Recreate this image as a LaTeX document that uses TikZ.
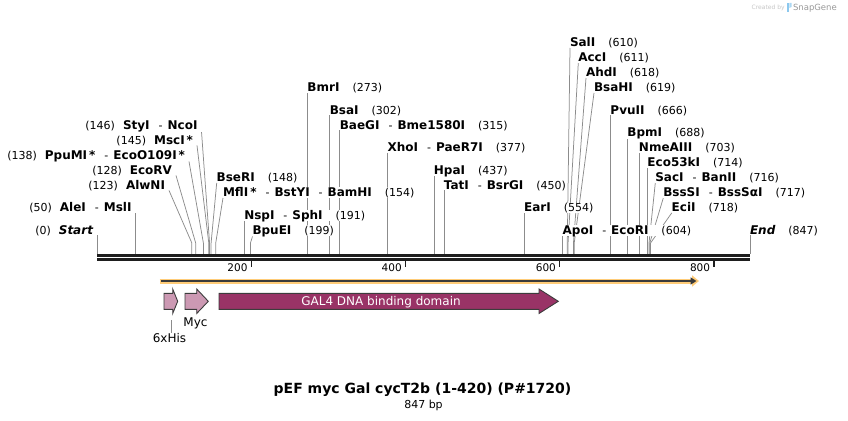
\documentclass[tikz,border=0pt]{standalone}
\usepackage{fontspec}
\setmainfont{DejaVu Sans}
\usepackage{xcolor}
\usetikzlibrary{arrows.meta,backgrounds}

\definecolor{sitegray}{HTML}{8C8C8C}
\definecolor{axisblack}{HTML}{1E1E1E}
\definecolor{orfyellow}{HTML}{FFCC78}
\definecolor{orfdark}{HTML}{3A3A3A}
\definecolor{gal4red}{HTML}{993366}
\definecolor{tagpink}{HTML}{CC99B3}
\definecolor{featline}{HTML}{3C3C3C}
\definecolor{snapblue}{HTML}{8CC8EE}

\newcommand{\enz}[1]{{\fontsize{12}{12}\selectfont\bfseries #1}}
\newcommand{\esep}{\hspace{9pt}-\hspace{5pt}}

\tikzset{
  lab/.style={inner sep=0pt, outer sep=0pt, fill=white, font=\fontsize{11}{11}\selectfont},
  lft/.style={lab, anchor=base east, inner xsep=4pt},
  rgt/.style={lab, anchor=base west},
  site/.style={draw=sitegray, line width=0.75pt},
  tick/.style={draw=axisblack, line width=1.4pt},
  ticklab/.style={lab, anchor=base east, font=\fontsize{10.5}{10.5}\selectfont},
  feat/.style={draw=featline, line width=0.9pt},
  featlab/.style={inner sep=0pt, outer sep=0pt, anchor=base, font=\fontsize{12}{12}\selectfont}
}

\begin{document}
\begin{tikzpicture}[x=1pt,y=-1pt]
\useasboundingbox (0,0) rectangle (848,420);

\coordinate (s0) at (97,254);
\coordinate (s50) at (135.55,254);
\coordinate (s123) at (191.83,254);
\coordinate (s128) at (195.68,254);
\coordinate (s138) at (203.39,254);
\coordinate (s145) at (208.79,254);
\coordinate (s146) at (209.56,254);
\coordinate (s148) at (211.10,254);
\coordinate (s154) at (215.73,254);
\coordinate (s191) at (244.25,254);
\coordinate (s199) at (250.42,254);
\coordinate (s273) at (307.47,254);
\coordinate (s302) at (329.83,254);
\coordinate (s315) at (339.85,254);
\coordinate (s377) at (387.65,254);
\coordinate (s437) at (433.91,254);
\coordinate (s450) at (443.93,254);
\coordinate (s554) at (524.11,254);
\coordinate (s604) at (562.66,254);
\coordinate (s610) at (567.28,254);
\coordinate (s611) at (568.05,254);
\coordinate (s618) at (573.45,254);
\coordinate (s619) at (574.22,254);
\coordinate (s666) at (610.46,254);
\coordinate (s688) at (627.42,254);
\coordinate (s703) at (638.98,254);
\coordinate (s714) at (647.46,254);
\coordinate (s716) at (649.00,254);
\coordinate (s717) at (649.78,254);
\coordinate (s718) at (650.55,254);
\coordinate (s847) at (750,254);

\draw[axisblack, line width=2.4pt] (97,255.3) -- (750,255.3);
\draw[axisblack, line width=2.4pt] (97,259.5) -- (750,259.5);

\draw[tick] (251.2,260.5) -- (251.2,267);
\draw[tick] (405.4,260.5) -- (405.4,267);
\draw[tick] (559.6,260.5) -- (559.6,267);
\draw[tick] (713.8,260.5) -- (713.8,267);
\node[ticklab] (t200) at (247.5,271) {200};
\node[ticklab] (t400) at (401.7,271) {400};
\node[ticklab] (t600) at (555.9,271) {600};
\node[ticklab] (t800) at (710.1,271) {800};

\node[lft] (start) at (97,234) {(0)\hspace{8pt}\enz{\itshape Start}};
\node[lft] (aleI) at (135.55,211.5) {(50)\hspace{8pt}\enz{AleI}\esep\enz{MslI}};
\node[lft] (alwNI) at (169,189) {(123)\hspace{8pt}\enz{AlwNI}};
\node[lft] (ecoRV) at (176,174) {(128)\hspace{8pt}\enz{EcoRV}};
\node[lft] (ppuMI) at (189,159) {(138)\hspace{8pt}\enz{PpuMI\,*}\esep\enz{EcoO109I\,*}};
\node[lft] (mscI) at (197,144) {(145)\hspace{8pt}\enz{MscI\,*}};
\node[lft] (styI) at (201.5,129) {(146)\hspace{8pt}\enz{StyI}\esep\enz{NcoI}};

\node[rgt] (bseRI) at (216.7,181.5) {\enz{BseRI}\hspace{13pt}(148)};
\node[rgt] (mflI) at (223,196.5) {\enz{MflI\,*}\esep\enz{BstYI}\esep\enz{BamHI}\hspace{13pt}(154)};
\node[rgt] (nspI) at (244.25,219) {\enz{NspI}\esep\enz{SphI}\hspace{13pt}(191)};
\node[rgt] (bpuEI) at (252.5,234) {\enz{BpuEI}\hspace{13pt}(199)};
\node[rgt] (bmrI) at (307.47,91.5) {\enz{BmrI}\hspace{13pt}(273)};
\node[rgt] (bsaI) at (329.83,114) {\enz{BsaI}\hspace{13pt}(302)};
\node[rgt] (baeGI) at (339.85,129) {\enz{BaeGI}\esep\enz{Bme1580I}\hspace{13pt}(315)};
\node[rgt] (xhoI) at (387.65,151.5) {\enz{XhoI}\esep\enz{PaeR7I}\hspace{13pt}(377)};
\node[rgt] (hpaI) at (433.91,174) {\enz{HpaI}\hspace{13pt}(437)};
\node[rgt] (tatI) at (443.93,189) {\enz{TatI}\esep\enz{BsrGI}\hspace{13pt}(450)};
\node[rgt] (earI) at (524.11,211.5) {\enz{EarI}\hspace{13pt}(554)};
\node[rgt] (apoI) at (562.66,234) {\enz{ApoI}\esep\enz{EcoRI}\hspace{13pt}(604)};
\node[rgt] (salI) at (570,46.5) {\enz{SalI}\hspace{13pt}(610)};
\node[rgt] (accI) at (578.3,61.5) {\enz{AccI}\hspace{13pt}(611)};
\node[rgt] (ahdI) at (586,76.5) {\enz{AhdI}\hspace{13pt}(618)};
\node[rgt] (bsaHI) at (594,91.5) {\enz{BsaHI}\hspace{13pt}(619)};
\node[rgt] (pvuII) at (610.46,114) {\enz{PvuII}\hspace{13pt}(666)};
\node[rgt] (bpmI) at (627.42,136.5) {\enz{BpmI}\hspace{13pt}(688)};
\node[rgt] (nmeAIII) at (638.98,151.5) {\enz{NmeAIII}\hspace{13pt}(703)};
\node[rgt] (eco53kI) at (647.46,166.5) {\enz{Eco53kI}\hspace{13pt}(714)};
\node[rgt] (sacI) at (655.3,181.5) {\enz{SacI}\esep\enz{BanII}\hspace{13pt}(716)};
\node[rgt] (bssSI) at (663.3,196.5) {\enz{BssSI}\esep\enz{BssSαI}\hspace{13pt}(717)};
\node[rgt] (eciI) at (671.7,211.5) {\enz{EciI}\hspace{13pt}(718)};
\node[rgt] (end) at (750,234) {\enz{\itshape End}\hspace{13pt}(847)};

\begin{scope}[on background layer]
\draw[site] (start.south east) -- (s0);
\draw[site] (aleI.south east) -- (s50);
\draw[site] (alwNI.south east) -- ([yshift=11pt]s123) -- (s123);
\draw[site] (ecoRV.south east) -- ([yshift=11pt]s128) -- (s128);
\draw[site] (ppuMI.south east) -- ([yshift=11pt]s138) -- (s138);
\draw[site] (mscI.south east) -- ([yshift=11pt]s145) -- (s145);
\draw[site] (styI.south east) -- ([yshift=11pt]s146) -- (s146);
\draw[site] (bseRI.south west) -- ([yshift=11pt]s148) -- (s148);
\draw[site] (mflI.south west) -- ([yshift=11pt]s154) -- (s154);
\draw[site] (nspI.south west) -- (s191);
\draw[site] (bpuEI.south west) -- ([yshift=11pt]s199) -- (s199);
\draw[site] (bmrI.south west) -- (s273);
\draw[site] (bsaI.south west) -- (s302);
\draw[site] (baeGI.south west) -- (s315);
\draw[site] (xhoI.south west) -- (s377);
\draw[site] (hpaI.south west) -- (s437);
\draw[site] (tatI.south west) -- (s450);
\draw[site] (earI.south west) -- (s554);
\draw[site] (apoI.south west) -- (s604);
\draw[site] (salI.south west) -- ([yshift=11pt]s610) -- (s610);
\draw[site] (accI.south west) -- ([yshift=11pt]s611) -- (s611);
\draw[site] (ahdI.south west) -- ([yshift=11pt]s618) -- (s618);
\draw[site] (bsaHI.south west) -- ([yshift=11pt]s619) -- (s619);
\draw[site] (pvuII.south west) -- (s666);
\draw[site] (bpmI.south west) -- (s688);
\draw[site] (nmeAIII.south west) -- (s703);
\draw[site] (eco53kI.south west) -- (s714);
\draw[site] (sacI.south west) -- ([yshift=11pt]s716) -- (s716);
\draw[site] (bssSI.south west) -- ([yshift=11pt]s717) -- (s717);
\draw[site] (eciI.south west) -- ([yshift=11pt]s718) -- (s718);
\draw[site] (end.south west) -- (s847);
\end{scope}

\coordinate (orf1) at (159.5,281);
\coordinate (orf2) at (699,281);
\draw[orfyellow, line width=5pt, -{Triangle[length=7pt,width=11pt]}] (orf1) -- (orf2);
\draw[orfdark, line width=1.6pt, -{Triangle[length=6pt,width=7pt]}] ([xshift=1.5pt]orf1) -- ([xshift=-2.5pt]orf2);

\draw[feat, fill=tagpink] (164,293.3) -- (172.7,293.3) -- (172.7,289) -- (177.7,301.3)
  -- (172.7,313.5) -- (172.7,309.3) -- (164,309.3) -- cycle;
\draw[feat, fill=tagpink] (185,293.3) -- (196.7,293.3) -- (196.7,289) -- (208.3,301.3)
  -- (196.7,313.5) -- (196.7,309.3) -- (185,309.3) -- cycle;
\draw[feat, fill=gal4red] (219,293.3) -- (539,293.3) -- (539,289) -- (558.3,301.3)
  -- (539,313.5) -- (539,309.3) -- (219,309.3) -- cycle;
\node[featlab, text=white] (gal4) at (381,305.6) {GAL4 DNA binding domain};
\node[featlab] (myc) at (195.5,326.5) {Myc};
\node[featlab] (his) at (169.5,342.5) {6xHis};
\coordinate (hisb) at (171.3,320);
\draw[site] (hisb) -- (his.north -| hisb);

\node[lab, anchor=base, font=\fontsize{14}{14}\selectfont\bfseries] (title) at (422.5,393.2)
  {pEF myc Gal cycT2b (1-420) (P\#1720)};
\node[lab, anchor=base] (size) at (423.5,408) {847 bp};

\node[lab, anchor=base west, text=black!22, font=\fontsize{6}{6}\selectfont] (made) at (751.7,9.7) {Created by};
\fill[snapblue] (787,3) rectangle (789.3,12);
\fill[snapblue!70] (789.3,3) -- (791.5,3) -- (791.5,7) -- (789.3,8) -- cycle;
\node[lab, anchor=base west, text=black!40, font=\fontsize{8.5}{8.5}\selectfont] (snap) at (793,10.5) {SnapGene};

\end{tikzpicture}
\end{document}
